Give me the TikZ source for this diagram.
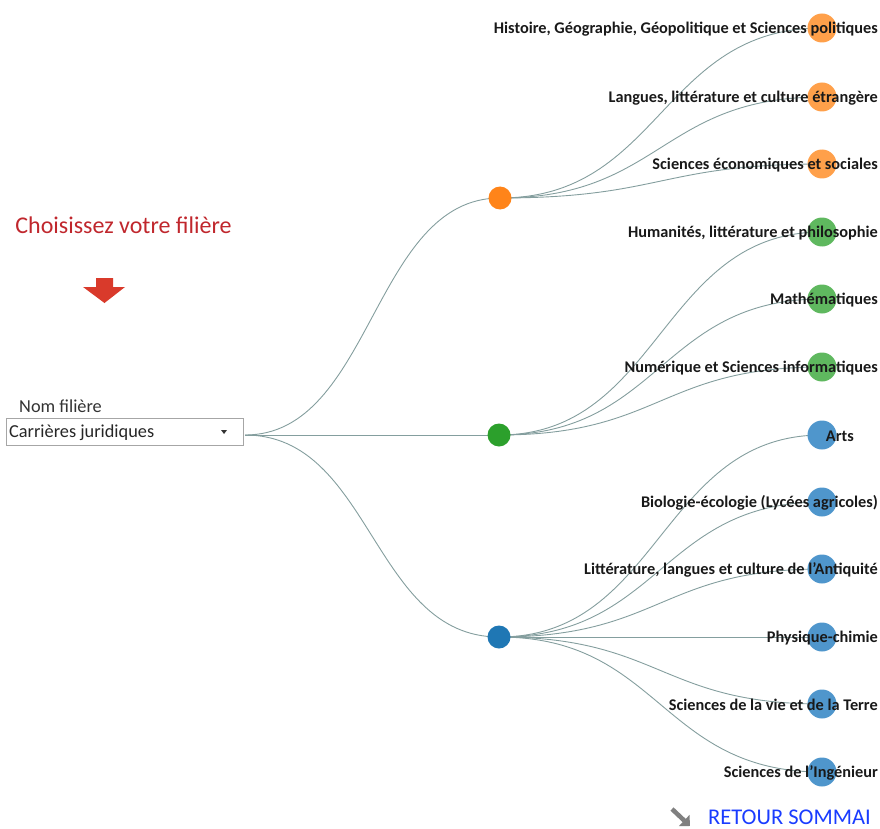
\documentclass[tikz,border=0pt]{standalone}
\usepackage{fontspec}
\setmainfont{Carlito}
\usetikzlibrary{backgrounds,arrows.meta,calc}
\definecolor{linkc}{HTML}{849E9E}
\definecolor{orgA}{HTML}{FF8419}
\definecolor{orgB}{HTML}{FFA04A}
\definecolor{grnA}{HTML}{2CA02C}
\definecolor{grnB}{HTML}{5FB85F}
\definecolor{bluA}{HTML}{1F77B4}
\definecolor{bluB}{HTML}{4F96CC}
\definecolor{titlered}{HTML}{C0272D}
\definecolor{arrowred}{HTML}{D93A2B}
\definecolor{retour}{HTML}{1A3CFF}
\newcommand\lnk[2]{\draw[linkc, line width=0.9pt] let \p1=(#1), \p2=(#2) in (\p1) .. controls ({(\x1+\x2)/2},\y1) and ({(\x1+\x2)/2},\y2) .. (\p2);}
\begin{document}
\begin{tikzpicture}[x=1pt,y=-1pt,
  midnode/.style={circle, inner sep=0pt, minimum size=23pt},
  leafnode/.style={circle, inner sep=0pt, minimum size=29pt},
  leaflabel/.style={anchor=east, font=\fontsize{16.3}{18}\selectfont\bfseries, inner sep=0pt, text=black!90}]
\useasboundingbox (0,0) rectangle (880,829);
% left panel
\node[anchor=center, text=titlered, font=\fontsize{24}{28}\selectfont] (title) at (123.5,225) {Choisissez votre filière};
\fill[arrowred] (96,278) -- (113,278) -- (113,287) -- (125,287) -- (104.5,303) -- (83,287) -- (96,287) -- cycle;
\node[anchor=west, text=black!80, font=\fontsize{18.3}{20}\selectfont, inner sep=0pt] (nomlab) at (19,406) {Nom filière};
\node[draw=black!35, line width=0.8pt, anchor=north west, minimum width=237pt, minimum height=27pt, inner sep=0pt] (box) at (6,418) {};
\node[anchor=west, text=black!85, font=\fontsize{18.3}{20}\selectfont, inner sep=0pt] (boxtext) at (9,433) {Carrières juridiques};
\fill[black!80] (221,430) -- (227,430) -- (224,434) -- cycle;
\coordinate (root) at (245,435);
% level 1
\node[midnode, fill=orgA] (o1) at (500,198) {};
\node[midnode, fill=grnA] (g1) at (499,435) {};
\node[midnode, fill=bluA] (b1) at (499,637) {};
% leaves
\node[leafnode, fill=orgB] (l1) at (822,28) {};
\node[leafnode, fill=orgB] (l2) at (822,97) {};
\node[leafnode, fill=orgB] (l3) at (822,164) {};
\node[leafnode, fill=grnB] (l4) at (822,232) {};
\node[leafnode, fill=grnB] (l5) at (822,299) {};
\node[leafnode, fill=grnB] (l6) at (822,367) {};
\node[leafnode, fill=bluB] (l7) at (822,435) {};
\node[leafnode, fill=bluB] (l8) at (822,502) {};
\node[leafnode, fill=bluB] (l9) at (822,569) {};
\node[leafnode, fill=bluB] (l10) at (822,637) {};
\node[leafnode, fill=bluB] (l11) at (822,704) {};
\node[leafnode, fill=bluB] (l12) at (822,772) {};
\begin{pgfonlayer}{background}
\lnk{root}{o1}\lnk{root}{g1}\lnk{root}{b1}
\lnk{o1}{l1}\lnk{o1}{l2}\lnk{o1}{l3}
\lnk{g1}{l4}\lnk{g1}{l5}\lnk{g1}{l6}
\lnk{b1}{l7}\lnk{b1}{l8}\lnk{b1}{l9}\lnk{b1}{l10}\lnk{b1}{l11}\lnk{b1}{l12}
\end{pgfonlayer}
% labels
\node[leaflabel] (t1) at (878,29) {Histoire, Géographie, Géopolitique et Sciences politiques};
\node[leaflabel] (t2) at (878,98) {Langues, littérature et culture étrangère};
\node[leaflabel] (t3) at (878,165) {Sciences économiques et sociales};
\node[leaflabel] (t4) at (878,233) {Humanités, littérature et philosophie};
\node[leaflabel] (t5) at (878,300) {Mathématiques};
\node[leaflabel] (t6) at (878,368) {Numérique et Sciences informatiques};
\node[leaflabel] (t7) at (854,436) {Arts};
\node[leaflabel] (t8) at (878,503) {Biologie-écologie (Lycées agricoles)};
\node[leaflabel] (t9) at (878,570) {Littérature, langues et culture de l'Antiquité};
\node[leaflabel] (t10) at (878,638) {Physique-chimie};
\node[leaflabel] (t11) at (878,705) {Sciences de la vie et de la Terre};
\node[leaflabel] (t12) at (878,773) {Sciences de l'Ingénieur};
% retour
\draw[black!50, line width=4.5pt, -{Triangle[length=8pt,width=15pt]}] (672,809) -- (690,826);
\node[anchor=west, text=retour, font=\fontsize{22.5}{25}\selectfont, inner sep=0pt] (ret) at (708,817) {RETOUR SOMMAI};
\end{tikzpicture}
\end{document}
